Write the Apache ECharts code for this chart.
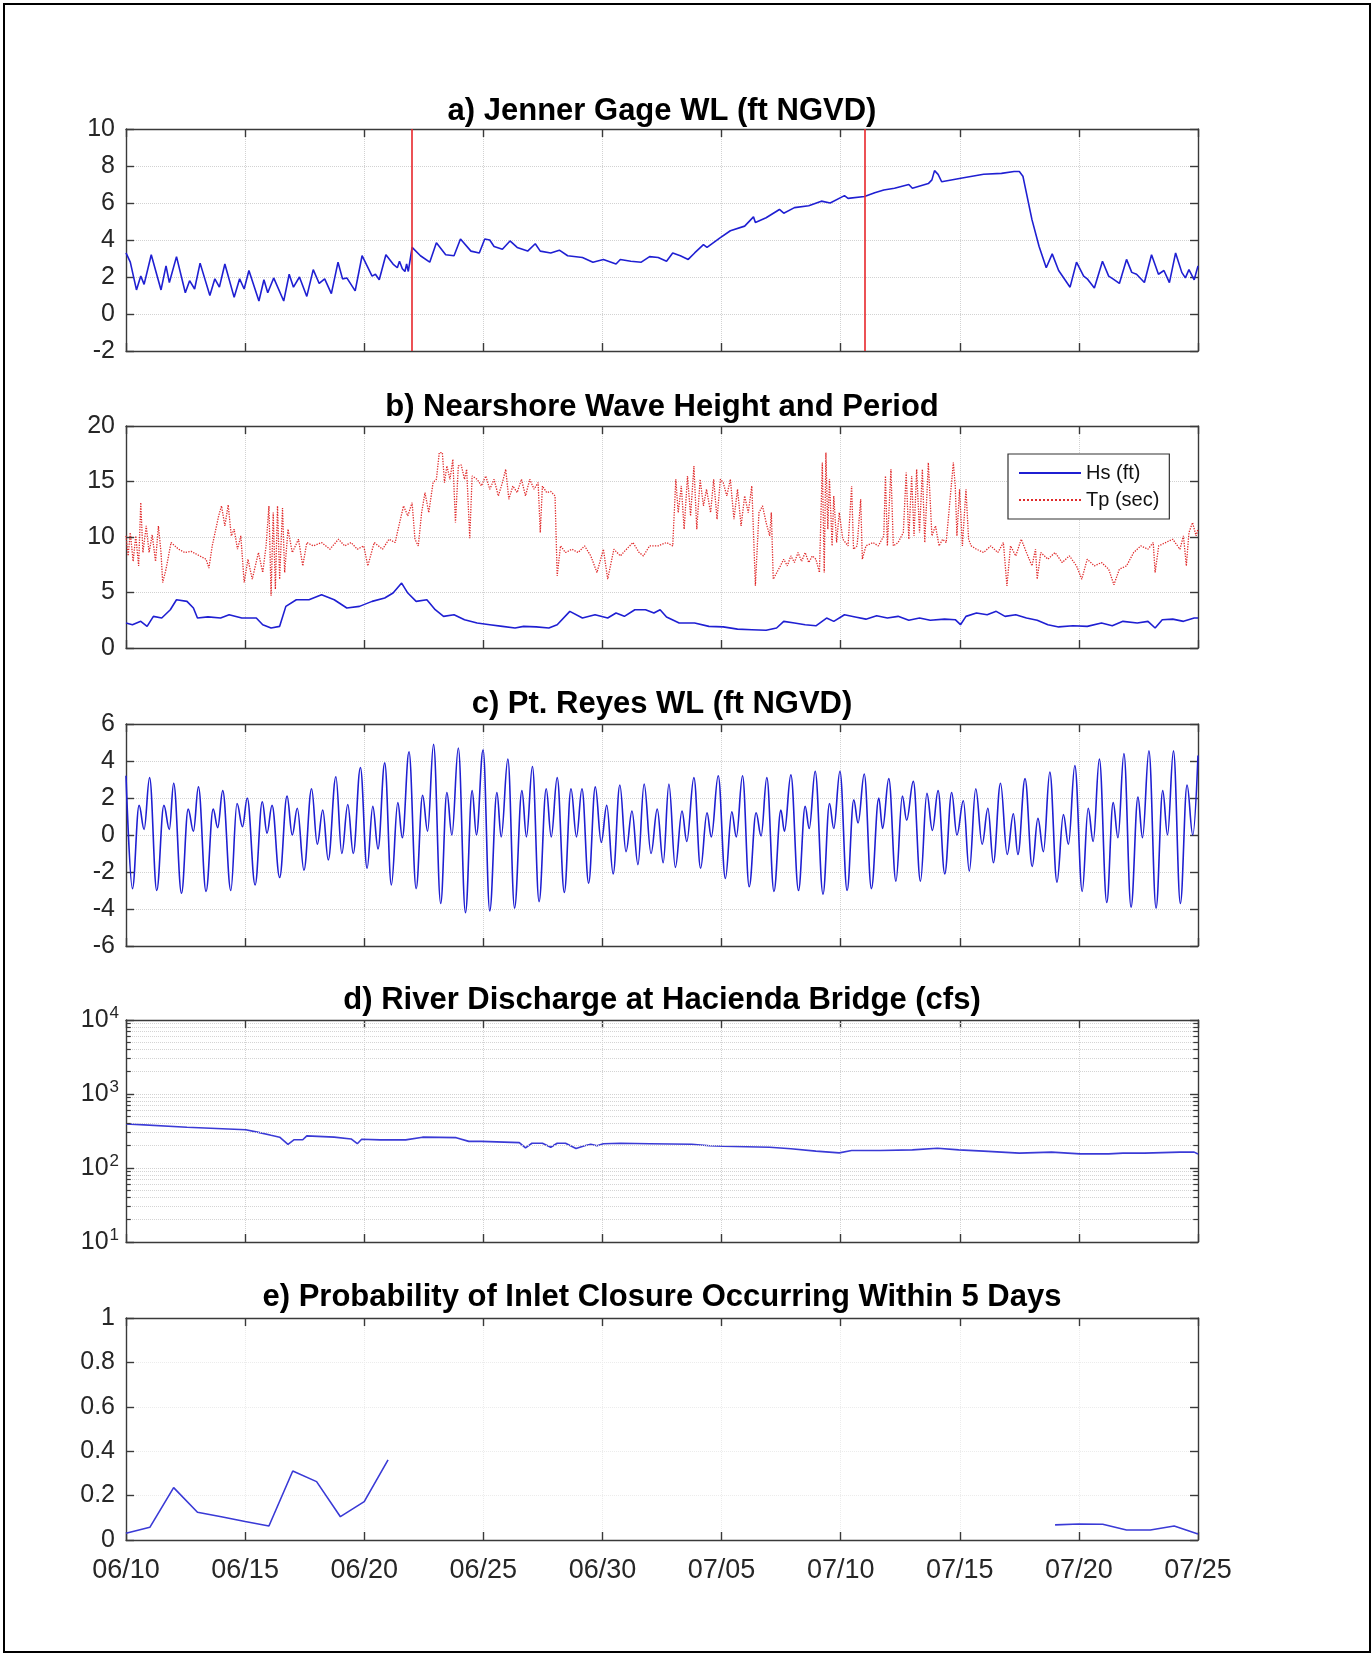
<!DOCTYPE html>
<html><head><meta charset="utf-8">
<script src="https://cdn.jsdelivr.net/npm/echarts@6/dist/echarts.min.js"></script>
<style>html,body{margin:0;padding:0;background:#fff}#c{width:1372px;height:1655px}</style>
</head><body><div id="c"></div>
<script>
// ---------------- DATA (x = days since 06/10 00:00) ----------------
const xTickLabels = ['06/10','06/15','06/20','06/25','06/30','07/05','07/10','07/15','07/20','07/25'];
const panelTitles = ['a) Jenner Gage WL (ft NGVD)','b) Nearshore Wave Height and Period','c) Pt. Reyes WL (ft NGVD)','d) River Discharge at Hacienda Bridge (cfs)','e) Probability of Inlet Closure Occurring Within 5 Days'];
const redLineDays = [12, 31];

const jennerWL = [[0,3.3],[0.18,2.8],[0.44,1.3],[0.62,2.05],[0.76,1.6],[1.06,3.2],[1.47,1.3],[1.68,2.6],[1.82,1.7],[2.12,3.1],
[2.49,1.15],[2.67,1.8],[2.88,1.35],[3.11,2.75],[3.52,1.0],[3.73,1.9],[3.92,1.45],[4.15,2.7],[4.54,0.9],[4.77,1.9],
[4.96,1.35],[5.16,2.35],[5.58,0.7],[5.79,1.85],[5.95,1.15],[6.2,1.95],[6.62,0.7],[6.85,2.15],[7.03,1.45],[7.28,2.0],
[7.59,0.95],[7.86,2.4],[8.11,1.65],[8.34,1.9],[8.62,1.1],[8.9,2.8],[9.09,1.9],[9.27,1.95],[9.62,1.25],[9.91,3.15],
[10.12,2.6],[10.33,2.05],[10.47,2.15],[10.63,1.85],[10.91,3.2],[11.21,2.7],[11.39,2.5],[11.48,2.85],[11.6,2.45],[11.71,2.3],
[11.78,2.7],[11.85,2.3],[12.01,3.6],[12.36,3.15],[12.75,2.8],[13.03,3.85],[13.42,3.2],[13.77,3.15],[14.04,4.05],[14.48,3.4],
[14.83,3.3],[15.06,4.05],[15.27,4.0],[15.45,3.65],[15.8,3.5],[16.12,3.95],[16.42,3.6],[16.86,3.4],[17.18,3.8],[17.39,3.4],
[17.83,3.3],[18.19,3.45],[18.54,3.15],[19.16,3.05],[19.6,2.8],[20.04,2.95],[20.57,2.7],[20.75,2.95],[21.19,2.85],[21.63,2.8],
[21.98,3.1],[22.34,3.05],[22.69,2.85],[22.95,3.3],[23.27,3.15],[23.6,2.95],[23.87,3.3],[24.24,3.75],[24.39,3.6],[24.92,4.1],
[25.37,4.5],[25.97,4.75],[26.34,5.25],[26.42,4.95],[26.87,5.2],[27.43,5.65],[27.61,5.45],[28.06,5.75],[28.66,5.85],[29.19,6.1],
[29.56,6.0],[30.16,6.4],[30.31,6.25],[31.0,6.35],[31.43,6.55],[31.81,6.7],[32.26,6.8],[32.86,7.0],[33.01,6.8],[33.68,7.05],
[33.83,7.25],[33.94,7.75],[34.09,7.55],[34.24,7.15],[35.1,7.35],[36.0,7.55],[36.75,7.6],[37.28,7.7],[37.5,7.7],[37.65,7.45],
[38.03,5.1],[38.33,3.65],[38.63,2.5],[38.88,3.25],[39.15,2.35],[39.63,1.45],[39.9,2.8],[40.2,2.05],[40.35,1.9],[40.65,1.4],
[40.99,2.85],[41.25,2.05],[41.43,1.9],[41.7,1.65],[42.0,2.95],[42.22,2.25],[42.42,2.15],[42.75,1.7],[43.05,3.2],[43.34,2.15],
[43.57,2.35],[43.8,1.7],[44.06,3.3],[44.32,2.25],[44.47,1.95],[44.62,2.4],[44.84,1.85],[45.0,2.6]];

const hsFt = [[0,2.25],[0.27,2.1],[0.62,2.4],[0.885,1.95],[1.15,2.85],[1.5,2.7],[1.86,3.45],[2.12,4.35],[2.56,4.2],[2.83,3.6],
[3.0,2.7],[3.44,2.8],[3.97,2.7],[4.33,3.0],[4.86,2.7],[5.47,2.7],[5.74,2.1],[6.09,1.8],[6.45,1.95],[6.71,3.75],
[7.15,4.35],[7.68,4.35],[8.21,4.8],[8.74,4.35],[9.27,3.6],[9.8,3.75],[10.33,4.2],[10.86,4.5],[11.21,4.95],[11.57,5.85],
[11.83,4.95],[12.18,4.2],[12.63,4.35],[12.98,3.45],[13.33,2.85],[13.77,3.0],[14.21,2.55],[14.74,2.25],[15.27,2.1],[15.8,1.95],
[16.33,1.8],[16.69,1.95],[17.22,1.9],[17.75,1.8],[18.1,2.1],[18.63,3.3],[19.16,2.7],[19.69,3.0],[20.22,2.7],[20.57,3.15],
[20.92,2.85],[21.36,3.45],[21.81,3.45],[22.16,3.15],[22.42,3.45],[22.69,2.8],[23.22,2.25],[23.87,2.25],[24.47,1.95],[25.07,1.9],
[25.67,1.7],[26.27,1.65],[26.87,1.6],[27.31,1.8],[27.61,2.4],[28.06,2.25],[28.51,2.1],[28.96,2.0],[29.41,2.7],[29.71,2.4],
[30.16,3.0],[30.61,2.8],[31.06,2.6],[31.51,2.9],[31.96,2.7],[32.41,2.85],[32.86,2.5],[33.31,2.7],[33.76,2.5],[34.36,2.6],
[34.81,2.55],[35.03,2.1],[35.26,2.85],[35.7,3.15],[36.15,3.0],[36.53,3.3],[36.9,2.85],[37.35,3.0],[37.8,2.7],[38.25,2.5],
[38.7,2.1],[39.15,1.9],[39.75,2.0],[40.35,1.95],[40.95,2.25],[41.4,2.0],[41.85,2.4],[42.45,2.25],[42.9,2.4],[43.2,1.8],
[43.5,2.55],[43.94,2.6],[44.39,2.4],[44.84,2.7],[45.0,2.7]];

const tpSec = [[0,10.1],[0.09,8.3],[0.18,10.4],[0.3,7.8],[0.41,10.1],[0.53,7.4],[0.62,13.1],[0.71,8.6],[0.85,11.0],[0.97,8.6],
[1.1,10.2],[1.24,7.8],[1.36,11.0],[1.47,8.6],[1.54,5.9],[1.68,7.1],[1.89,9.5],[2.21,8.9],[2.47,8.6],[2.74,8.7],
[3.09,8.3],[3.36,8.0],[3.48,7.2],[3.62,9.2],[3.89,11.9],[4.01,12.8],[4.15,11.0],[4.29,12.9],[4.42,10.1],[4.54,10.7],
[4.68,8.9],[4.82,10.1],[4.96,5.9],[5.12,8.0],[5.3,6.2],[5.56,8.6],[5.74,6.8],[5.88,9.2],[6.0,12.8],[6.09,4.7],
[6.18,12.2],[6.27,5.3],[6.36,12.8],[6.45,6.2],[6.57,12.6],[6.66,6.8],[6.8,10.7],[6.98,8.6],[7.24,9.8],[7.42,7.4],
[7.59,9.5],[7.86,9.2],[8.21,9.5],[8.56,8.9],[8.92,9.8],[9.18,9.2],[9.45,9.5],[9.71,8.9],[9.98,9.2],[10.15,7.4],
[10.42,9.5],[10.77,8.9],[11.04,9.8],[11.3,9.5],[11.39,10.4],[11.65,12.8],[11.83,11.9],[12.01,13.1],[12.13,9.8],[12.27,9.2],
[12.41,12.2],[12.55,14.0],[12.71,12.2],[12.89,14.9],[13.03,15.2],[13.15,17.6],[13.28,17.6],[13.37,14.9],[13.47,16.4],[13.6,15.2],
[13.72,17.0],[13.83,11.3],[13.95,16.4],[14.07,16.5],[14.21,15.2],[14.3,16.1],[14.43,9.9],[14.53,15.5],[14.74,15.2],[14.92,14.6],
[15.1,15.5],[15.27,14.3],[15.45,15.2],[15.63,13.7],[15.8,14.9],[15.94,16.1],[16.07,13.4],[16.24,14.6],[16.42,14.0],[16.6,15.2],
[16.77,13.7],[16.95,15.2],[17.13,14.3],[17.3,14.9],[17.39,10.4],[17.48,14.6],[17.66,14.0],[17.83,14.1],[18.01,13.7],[18.1,6.5],
[18.24,9.2],[18.45,8.6],[18.72,8.9],[18.98,8.6],[19.25,9.2],[19.51,8.3],[19.77,6.8],[20.04,8.9],[20.22,6.2],[20.48,8.9],
[20.75,8.3],[21.01,8.9],[21.28,9.5],[21.54,8.6],[21.72,8.3],[21.98,9.2],[22.34,9.2],[22.69,9.5],[22.95,9.2],[23.08,15.2],
[23.18,12.2],[23.31,14.6],[23.43,10.7],[23.57,15.5],[23.7,11.9],[23.84,16.4],[23.96,10.7],[24.1,15.2],[24.24,12.8],[24.37,14.3],
[24.54,12.2],[24.67,15.2],[24.81,11.6],[24.95,15.2],[25.07,14.9],[25.22,13.7],[25.37,15.2],[25.52,11.6],[25.67,14.3],[25.82,11.0],
[25.97,13.7],[26.12,12.2],[26.27,14.6],[26.42,5.6],[26.57,12.2],[26.72,12.8],[26.87,11.3],[27.02,10.1],[27.09,12.2],[27.17,6.2],
[27.32,6.8],[27.47,7.4],[27.61,8.0],[27.76,7.4],[27.91,8.3],[28.06,7.7],[28.21,8.6],[28.36,7.8],[28.51,8.6],[28.66,7.7],
[28.81,8.3],[28.96,8.0],[29.11,6.8],[29.23,16.7],[29.31,6.8],[29.38,17.6],[29.46,10.7],[29.53,15.2],[29.64,9.2],[29.71,13.7],
[29.83,9.5],[29.94,12.2],[30.09,9.8],[30.31,9.2],[30.46,14.6],[30.54,8.9],[30.69,9.2],[30.84,13.4],[30.91,8.0],[31.06,9.2],
[31.36,9.5],[31.58,9.2],[31.81,10.1],[31.88,15.5],[31.96,9.2],[32.11,16.1],[32.21,9.2],[32.41,9.5],[32.63,10.4],[32.75,15.8],
[32.86,9.8],[32.98,15.5],[33.08,10.1],[33.19,16.1],[33.31,10.4],[33.43,16.1],[33.53,9.5],[33.68,16.7],[33.83,10.1],[33.98,11.0],
[34.13,9.2],[34.28,9.8],[34.43,9.5],[34.73,16.7],[34.81,14.6],[34.88,10.1],[34.99,14.3],[35.11,9.2],[35.26,14.3],[35.37,9.8],
[35.48,9.2],[35.7,8.9],[36.0,8.6],[36.3,9.2],[36.6,8.6],[36.83,9.5],[36.98,5.6],[37.13,9.2],[37.35,8.3],[37.58,9.8],
[37.8,8.6],[38.03,7.4],[38.18,8.9],[38.25,6.2],[38.4,8.6],[38.7,8.0],[39.0,8.6],[39.3,7.7],[39.6,8.3],[39.9,7.4],
[40.12,6.2],[40.35,8.0],[40.65,7.4],[40.95,7.7],[41.25,7.1],[41.47,5.7],[41.7,7.1],[42.0,7.4],[42.3,8.6],[42.6,9.2],
[42.9,8.9],[43.12,9.5],[43.2,6.8],[43.35,9.2],[43.64,9.5],[43.94,9.8],[44.24,8.9],[44.39,10.1],[44.51,7.4],[44.62,10.4],
[44.77,11.3],[44.92,10.1],[45.0,10.7]];

// tide highs / lows at Pt. Reyes
const reyesWL = [[0,3.2],[0.27,-2.9],[0.55,1.6],[0.76,0.3],[0.99,3.1],[1.29,-3.0],[1.59,1.6],[1.82,0.3],[2.0,2.8],[2.33,-3.15],
[2.61,1.4],[2.83,0.2],[3.04,2.6],[3.36,-3.05],[3.66,1.4],[3.85,0.4],[4.06,2.4],[4.4,-3.0],[4.66,1.7],[4.89,0.45],
[5.09,2.0],[5.42,-2.7],[5.72,1.8],[5.92,0.1],[6.13,1.6],[6.45,-2.3],[6.76,2.1],[6.98,0.0],[7.19,1.45],[7.47,-1.9],
[7.79,2.5],[8.03,-0.5],[8.26,1.35],[8.49,-1.35],[8.81,3.15],[9.06,-1.0],[9.31,1.65],[9.54,-1.0],[9.84,3.65],[10.12,-1.8],
[10.36,1.55],[10.58,-0.75],[10.86,3.9],[11.14,-2.7],[11.41,1.75],[11.6,-0.15],[11.88,4.5],[12.18,-2.9],[12.45,2.15],[12.66,0.2],
[12.91,4.9],[13.21,-3.7],[13.47,2.3],[13.68,0.0],[13.95,4.7],[14.25,-4.2],[14.53,2.4],[14.71,0.0],[14.99,4.6],[15.27,-4.1],
[15.57,2.3],[15.75,-0.1],[16.03,4.1],[16.31,-3.95],[16.62,2.4],[16.81,-0.1],[17.06,3.7],[17.34,-3.6],[17.64,2.5],[17.85,-0.1],
[18.1,3.1],[18.4,-3.1],[18.68,2.5],[18.91,-0.1],[19.14,2.5],[19.42,-2.6],[19.7,2.6],[19.95,-0.4],[20.18,1.6],[20.45,-2.1],
[20.73,2.7],[20.99,-0.9],[21.24,1.3],[21.49,-1.6],[21.75,2.75],[22.04,-1.0],[22.3,1.4],[22.55,-1.5],[22.79,2.75],[23.06,-1.75],
[23.34,1.3],[23.54,-0.35],[23.84,3.1],[24.12,-1.8],[24.39,1.2],[24.57,-0.1],[24.86,3.2],[25.16,-2.35],[25.43,1.25],[25.62,-0.1],
[25.88,3.2],[26.16,-2.8],[26.45,1.2],[26.66,-0.05],[26.9,3.1],[27.2,-3.05],[27.49,1.35],[27.64,0.2],[27.91,3.25],[28.23,-3.0],
[28.51,1.55],[28.68,0.35],[28.93,3.45],[29.26,-3.2],[29.53,1.7],[29.71,0.35],[29.97,3.45],[30.27,-3.0],[30.55,1.9],[30.73,0.65],
[30.99,3.3],[31.29,-2.9],[31.6,2.0],[31.76,0.35],[32.02,3.05],[32.32,-2.5],[32.59,2.1],[32.77,0.8],[33.05,2.9],[33.35,-2.5],
[33.62,2.25],[33.85,0.25],[34.09,2.4],[34.37,-2.1],[34.66,2.3],[34.88,0.0],[35.15,1.85],[35.4,-1.95],[35.67,2.5],[35.94,-0.5],
[36.18,1.45],[36.41,-1.5],[36.71,2.8],[36.99,-1.05],[37.25,1.15],[37.44,-1.05],[37.74,3.05],[38.04,-1.7],[38.28,0.9],[38.51,-0.9],
[38.78,3.4],[39.08,-2.55],[39.35,1.1],[39.56,-0.5],[39.83,3.75],[40.14,-3.05],[40.39,1.45],[40.6,-0.35],[40.86,4.1],[41.17,-3.65],
[41.44,1.75],[41.64,-0.15],[41.89,4.4],[42.19,-3.9],[42.48,2.05],[42.67,-0.15],[42.94,4.55],[43.24,-3.95],[43.52,2.4],[43.72,0.0],
[43.97,4.55],[44.26,-3.7],[44.54,2.7],[44.78,0.0],[45.0,4.3]];

const dischargeCfs = [[0,395],[2.56,355],[5.03,328],[5.56,303],[6.09,277],[6.45,261],[6.8,209],[7.06,241],[7.42,241],[7.59,272],
[8.74,261],[9.45,247],[9.71,213],[9.89,245],[10.68,240],[11.74,240],[12.45,261],[13.86,257],[14.39,229],[14.92,229],
[16.51,220],[16.77,187],[17.04,216],[17.48,216],[17.83,191],[18.1,216],[18.45,216],[18.89,183],[19.25,200],[19.51,209],
[19.77,200],[20.04,213],[20.75,216],[21.98,213],[23.75,209],[24.5,200],[25.07,197],[27.02,191],[27.91,182],[28.96,169],
[29.94,160],[30.46,172],[31.66,172],[33.01,176],[34.06,185],[34.96,176],[36.0,169],[37.5,159],[38.85,164],[40.05,155],
[41.25,155],[41.85,159],[42.75,159],[44.24,164],[44.84,164],[45.0,155]];

const probEarly = [[0,0.03],[1,0.057],[2,0.236],[3,0.125],[4,0.105],[5,0.083],[6,0.063],[7,0.311],[8,0.263],[9,0.105],[10,0.173],[11,0.361]];
const probLate = [[39,0.068],[40,0.072],[41,0.071],[42,0.045],[43,0.045],[44,0.063],[45,0.027]];

const yRanges = [{min:-2,max:10,interval:2},{min:0,max:20,interval:5},{min:-6,max:6,interval:2},{min:10,max:10000},{min:0,max:1,interval:0.2}];
const logMinorMult = [2,3,4,5,6,7,8,9];
const logDecades = [10,100,1000];

// ---------------- LAYOUT / STYLE ----------------
const FONT = '"Liberation Sans", Arial, Helvetica, sans-serif';
const AX = '#3a3a3a', TXT = '#262626', GRIDC = '#d2d2d2';
const BLUE = '#1f1fd2', RED = '#e02a2a';
const gL = 126, gW = 1072, gH = 222;
const gTops = [129, 426, 724, 1020, 1318];
const titleCenters = [111.5, 407.5, 704, 1000.5, 1297.5];

const grids = [], xAxes = [], yAxes = [], titles = [];
for (let i = 0; i < 5; i++) {
  grids.push({left: gL, top: gTops[i], width: gW, height: gH, containLabel: false});
  const axLine = {show: true, onZero: false, lineStyle: {color: AX, width: 1.4}};
  const tick = {show: true, inside: true, length: 8, lineStyle: {color: AX, width: 1.4}};
  const split = {show: true, lineStyle: {type: 'dotted', color: i === 4 ? '#ececec' : GRIDC, width: 1}};
  xAxes.push({gridIndex: i, type: 'value', min: 0, max: 45, interval: 5, position: 'bottom',
    axisLine: axLine, axisTick: tick, splitLine: split,
    axisLabel: {show: i === 4, fontFamily: FONT, fontSize: 27, color: TXT, margin: 17,
      formatter: v => xTickLabels[Math.round(v / 5)]}});
  xAxes.push({gridIndex: i, type: 'value', min: 0, max: 45, interval: 5, position: 'top',
    axisLine: axLine, axisTick: tick, splitLine: {show: false}, axisLabel: {show: false}});
  const r = yRanges[i];
  if (i === 3) {
    const lab = {fontFamily: FONT, fontSize: 25, color: TXT, margin: 7,
      formatter: v => '{b|10}{s|' + Math.round(Math.log10(v)) + '}',
      rich: {b: {fontFamily: FONT, fontSize: 25, color: TXT}, s: {fontFamily: FONT, fontSize: 17, color: TXT, padding: [0, 0, 14, 1]}}};
    yAxes.push({gridIndex: i, type: 'log', logBase: 10, min: r.min, max: r.max, position: 'left',
      axisLine: axLine, axisTick: tick, splitLine: split, axisLabel: lab});
    yAxes.push({gridIndex: i, type: 'log', logBase: 10, min: r.min, max: r.max, position: 'right',
      axisLine: axLine, axisTick: tick, splitLine: {show: false}, axisLabel: {show: false}});
  } else {
    yAxes.push({gridIndex: i, type: 'value', min: r.min, max: r.max, interval: r.interval, position: 'left',
      axisLine: axLine, axisTick: tick, splitLine: split,
      axisLabel: {fontFamily: FONT, fontSize: 25, color: TXT, margin: 11}});
    yAxes.push({gridIndex: i, type: 'value', min: r.min, max: r.max, interval: r.interval, position: 'right',
      axisLine: axLine, axisTick: tick, splitLine: {show: false}, axisLabel: {show: false}});
  }
  titles.push({text: panelTitles[i], left: gL + gW / 2, textAlign: 'center', top: titleCenters[i] - 16, padding: 0,
    textStyle: {fontFamily: FONT, fontSize: 31, fontWeight: 'bold', color: '#000', lineHeight: 32}});
}

// minor grid lines / minor ticks for the log panel
const minorVals = [];
logDecades.forEach(d => logMinorMult.forEach(m => minorVals.push(d * m)));
const minorLines = minorVals.map(v => ({yAxis: v}));
const minorTicks = [];
minorVals.forEach(v => {
  minorTicks.push([{coord: [0, v]}, {coord: [0.2, v]}]);
  minorTicks.push([{coord: [44.8, v]}, {coord: [45, v]}]);
});

const lineBase = {type: 'line', symbol: 'none', showSymbol: false, animation: false, clip: true};

const option = {
  backgroundColor: '#fff',
  animation: false,
  title: titles,
  grid: grids,
  xAxis: xAxes,
  yAxis: yAxes,
  legend: {
    data: ['Hs (ft)', 'Tp (sec)'], orient: 'vertical', left: 1008, top: 454,
    padding: [9, 10, 9, 10], itemGap: 7, itemWidth: 62, itemHeight: 14,
    borderColor: '#333', borderWidth: 1.2, backgroundColor: '#fff', borderRadius: 0,
    itemStyle: {opacity: 0, color: 'transparent', borderWidth: 0},
    textStyle: {fontFamily: FONT, fontSize: 20, color: '#111'}
  },
  series: [
    Object.assign({}, lineBase, {name: 'Jenner', xAxisIndex: 0, yAxisIndex: 0, data: jennerWL,
      lineStyle: {color: BLUE, width: 1.6},
      markLine: {silent: true, symbol: ['none', 'none'], label: {show: false},
        lineStyle: {color: '#e8262b', width: 1.6, type: 'solid'},
        data: redLineDays.map(d => ({xAxis: d}))}}),
    Object.assign({}, lineBase, {name: 'Hs (ft)', xAxisIndex: 2, yAxisIndex: 2, data: hsFt,
      color: BLUE, lineStyle: {color: BLUE, width: 1.6}}),
    Object.assign({}, lineBase, {name: 'Tp (sec)', xAxisIndex: 2, yAxisIndex: 2, data: tpSec,
      color: RED, lineStyle: {color: RED, width: 1.3, type: 'dotted'}}),
    Object.assign({}, lineBase, {name: 'PtReyes', xAxisIndex: 4, yAxisIndex: 4, data: reyesWL,
      smooth: 0.38, smoothMonotone: 'x', lineStyle: {color: BLUE, width: 1.6}}),
    Object.assign({}, lineBase, {name: 'Discharge', xAxisIndex: 6, yAxisIndex: 6, data: dischargeCfs,
      lineStyle: {color: '#3a3ad6', width: 1.6},
      markLine: {silent: true, symbol: ['none', 'none'], label: {show: false},
        lineStyle: {color: '#d4d4d4', width: 1, type: 'dotted'},
        data: minorLines.concat(minorTicks.map(p => [Object.assign({}, p[0], {lineStyle: {color: AX, type: 'solid', width: 1.2}}), p[1]]))}}),
    Object.assign({}, lineBase, {name: 'ProbEarly', xAxisIndex: 8, yAxisIndex: 8, data: probEarly,
      lineStyle: {color: '#3a3ad6', width: 1.6}}),
    Object.assign({}, lineBase, {name: 'ProbLate', xAxisIndex: 8, yAxisIndex: 8, data: probLate,
      lineStyle: {color: '#3a3ad6', width: 1.6}})
  ],
  graphic: [{type: 'rect', silent: true, z: 100,
    shape: {x: 4, y: 4, width: 1366, height: 1648},
    style: {fill: 'none', stroke: '#000', lineWidth: 2}}]
};

const chart = echarts.init(document.getElementById('c'), null, {renderer: 'canvas'});
chart.setOption(option);
</script>
</body></html>
